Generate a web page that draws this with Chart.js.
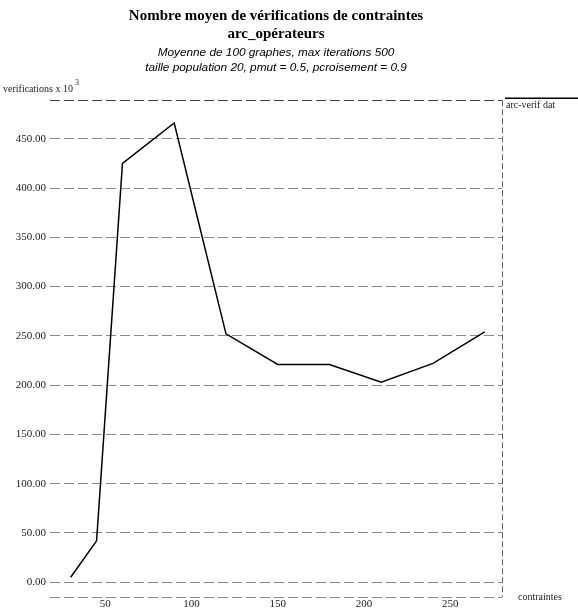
<!DOCTYPE html>
<html>
<head>
<meta charset="utf-8">
<script src="https://cdn.jsdelivr.net/npm/chart.js@4.4.1/dist/chart.umd.min.js"></script>
<style>
  html, body { margin: 0; padding: 0; background: #fff; }
  #wrap { width: 578px; height: 611px; }
</style>
</head>
<body>
<div id="wrap"><canvas id="chart" width="578" height="611"></canvas></div>
<script>
// nombre de contraintes
const contraintes = [30, 45, 60, 90, 120, 150, 180, 210, 240, 270];
// vérifications (x 10^3)
const verifications = [5, 42, 425, 466, 252, 221, 221, 203, 222, 254];
const yTicks = [0, 50, 100, 150, 200, 250, 300, 350, 400, 450];
const xTicks = [50, 100, 150, 200, 250];
const seriesName = "arc-verif dat";

const yMin = -15, yMax = 489;
const xMin = 18, xMax = 280;

const serif = "'Liberation Serif', 'DejaVu Serif', serif";
const sans = "'Liberation Sans', Arial, sans-serif";

const points = contraintes.map((c, i) => ({ x: c, y: verifications[i] }));

const textPlugin = {
  id: "xgraphText",
  afterDraw(chart) {
    const { ctx, chartArea } = chart;
    ctx.save();
    ctx.fillStyle = "#222";
    ctx.textBaseline = "middle";
    ctx.textAlign = "left";
    // titre de l'axe y
    ctx.font = "10px " + serif;
    ctx.fillText("verifications x 10", 3, 89);
    const w = ctx.measureText("verifications x 10").width;
    ctx.font = "8px " + serif;
    ctx.fillText("3", 3 + w + 2, 83);
    // titre de l'axe x
    ctx.font = "10px " + serif;
    ctx.fillText("contraintes", chartArea.right + 16, chartArea.bottom);
    // légende
    ctx.strokeStyle = "#000";
    ctx.lineWidth = 1.5;
    ctx.beginPath();
    ctx.moveTo(chartArea.right + 3, chartArea.top - 2);
    ctx.lineTo(578, chartArea.top - 2);
    ctx.stroke();
    ctx.font = "10px " + serif;
    ctx.fillText(seriesName, chartArea.right + 4, chartArea.top + 5);
    ctx.restore();
  }
};

new Chart(document.getElementById("chart"), {
  type: "scatter",
  data: {
    datasets: [{
      label: seriesName,
      data: points,
      showLine: true,
      borderColor: "#000",
      borderWidth: 1.5,
      pointRadius: 0,
      tension: 0
    }]
  },
  options: {
    responsive: false,
    animation: false,
    layout: { padding: { left: 0, right: 76, top: 0, bottom: 0 } },
    plugins: {
      legend: { display: false },
      tooltip: { enabled: false },
      title: {
        display: true,
        fullSize: false,
        text: ["Nombre moyen de vérifications de contraintes", "arc_opérateurs"],
        color: "#000",
        font: { family: serif, size: 15, weight: "bold", lineHeight: 1.2 },
        padding: { top: 7, bottom: 0 }
      },
      subtitle: {
        display: true,
        fullSize: false,
        text: ["Moyenne de 100 graphes, max iterations 500",
               "taille population 20, pmut = 0.5, pcroisement = 0.9"],
        color: "#000",
        font: { family: sans, size: 11.8, style: "italic", lineHeight: 1.2 },
        padding: { top: 3, bottom: 26 }
      }
    },
    scales: {
      x: {
        type: "linear",
        min: xMin,
        max: xMax,
        afterBuildTicks(scale) {
          scale.ticks = xTicks.concat([xMax]).map(v => ({ value: v }));
        },
        afterFit(scale) { scale.height = 14; },
        ticks: {
          padding: 1,
          color: "#222",
          font: { family: serif, size: 11 },
          callback: v => (xTicks.includes(v) ? String(v) : "")
        },
        grid: {
          drawTicks: false,
          color: ctx => (ctx.tick && ctx.tick.value === xMax ? "#666" : "rgba(0,0,0,0)"),
          lineWidth: 1
        },
        border: { display: false, dash: [6, 3] }
      },
      y: {
        type: "linear",
        min: yMin,
        max: yMax,
        afterBuildTicks(scale) {
          scale.ticks = [yMin].concat(yTicks, [yMax]).map(v => ({ value: v }));
        },
        afterFit(scale) { scale.width = 50; },
        ticks: {
          padding: 4,
          color: "#222",
          font: { family: serif, size: 11 },
          callback: v => (yTicks.includes(v) ? v.toFixed(2) : "")
        },
        grid: {
          drawTicks: false,
          color: ctx => (ctx.tick && ctx.tick.value === yMax ? "#444" : "#8a8a8a"),
          lineWidth: 1
        },
        border: { display: false, dash: [10, 4] }
      }
    }
  },
  plugins: [textPlugin]
});
</script>
</body>
</html>
